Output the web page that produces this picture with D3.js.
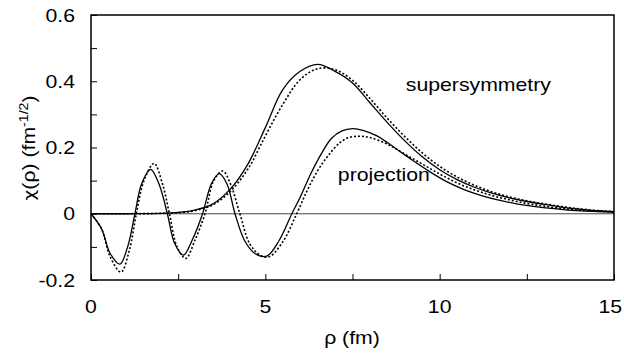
<!DOCTYPE html>
<html><head><meta charset="utf-8">
<script src="https://cdn.jsdelivr.net/npm/d3@7"></script>
<style>body{margin:0;background:#fff;} svg{display:block;font-family:"Liberation Sans",Arial,sans-serif;}</style>
</head><body><svg id="c" width="624" height="362"></svg>
<script>
// ρ (fm), χ values
const superSolidX = [0,1,2,2.5,3,3.5,4,4.5,5,5.5,6,6.5,7,7.5,8,8.5,9,9.5,10,10.5,11,11.5,12,12.5,13,13.5,14,14.5,15];
const superSolidY = [0,0,0.001,0.004,0.012,0.03,0.075,0.15,0.26,0.375,0.43,0.451,0.43,0.395,0.335,0.275,0.22,0.172,0.133,0.103,0.08,0.062,0.048,0.037,0.028,0.02,0.014,0.009,0.006];
const superDotX = [0,1,2,2.5,3,3.5,4,4.5,5,5.5,6,6.5,7,7.5,8,8.5,9,9.5,10,10.5,11,11.5,12,12.5,13,13.5,14,14.5,15];
const superDotY = [0,0,0.001,0.003,0.01,0.027,0.068,0.135,0.235,0.33,0.405,0.438,0.435,0.403,0.348,0.288,0.233,0.184,0.143,0.111,0.086,0.066,0.051,0.039,0.03,0.022,0.015,0.01,0.007];
const projSolidX = [0,0.3,0.55,0.83,1.05,1.26,1.45,1.71,1.95,2.19,2.4,2.65,2.9,3.2,3.45,3.68,3.9,4.13,4.4,4.7,5.04,5.4,5.76,6.0,6.3,6.6,6.9,7.2,7.5,7.8,8.2,8.7,9.2,9.7,10.2,10.7,11.2,11.7,12.2,12.7,13.2,13.7,14.2,15];
const projSolidY = [0,-0.045,-0.12,-0.152,-0.1,0,0.09,0.134,0.09,0,-0.09,-0.125,-0.08,0,0.09,0.121,0.09,0,-0.08,-0.12,-0.128,-0.08,0,0.05,0.12,0.18,0.228,0.25,0.257,0.252,0.235,0.2,0.163,0.128,0.097,0.073,0.055,0.041,0.03,0.022,0.016,0.011,0.008,0.005];
const projDotX = [0,0.3,0.55,0.86,1.1,1.3,1.52,1.81,2.05,2.25,2.47,2.72,2.98,3.27,3.52,3.78,4.0,4.27,4.55,4.85,5.11,5.5,5.9,6.2,6.5,6.8,7.14,7.4,7.71,8.0,8.5,9,9.5,10,10.5,11,11.5,12,12.5,13,13.5,14,14.5,15];
const projDotY = [0,-0.045,-0.13,-0.176,-0.11,0,0.1,0.152,0.09,0,-0.1,-0.135,-0.08,0,0.1,0.129,0.09,0,-0.09,-0.125,-0.13,-0.085,0,0.07,0.13,0.175,0.215,0.23,0.234,0.23,0.21,0.18,0.15,0.12,0.093,0.072,0.055,0.042,0.031,0.023,0.016,0.011,0.008,0.005];
const xTicks = [0,5,10,15];
const xMinor = [2.5,7.5,12.5];
const yTicks = [-0.2,0,0.2,0.4,0.6];
const yTickLabels = ["-0.2","0","0.2","0.4","0.6"];
const yMinor = [-0.1,0.1,0.3,0.5];
const labels = [{t:"supersymmetry",x:9.03,y:0.37},{t:"projection",x:7.08,y:0.1}];

const FS = 18, SX = 1.18;
const svg = d3.select("#c");
const L=91,R=614,T=15,B=280;
const x = d3.scaleLinear().domain([0,15]).range([L,R]);
const y = d3.scaleLinear().domain([-0.2,0.6]).range([B,T]);

function txt(px,py,s,anchor,rot){
  const g = svg.append("g").attr("transform",`translate(${px},${py})${rot?` rotate(${rot})`:""} scale(${SX},1)`);
  return g.append("text").attr("text-anchor",anchor||"start").attr("font-size",FS).text(s);
}

// zero line
svg.append("line").attr("x1",x(0)).attr("x2",x(15)).attr("y1",y(0)).attr("y2",y(0))
  .attr("stroke","#333").attr("stroke-width",0.9);

const line = d3.line().x(d=>x(d[0])).y(d=>y(d[1])).curve(d3.curveCatmullRom.alpha(0.5));
function draw(xs,ys,dash){
  svg.append("path").datum(xs.map((v,i)=>[v,ys[i]])).attr("d",line)
    .attr("fill","none").attr("stroke","#000").attr("stroke-width",dash?1.6:1.3)
    .attr("stroke-dasharray",dash?"2,2":null);
}
draw(superDotX,superDotY,true);
draw(projDotX,projDotY,true);
draw(superSolidX,superSolidY,false);
draw(projSolidX,projSolidY,false);

// frame
svg.append("rect").attr("x",L).attr("y",T).attr("width",R-L).attr("height",B-T)
  .attr("fill","none").attr("stroke","#000").attr("stroke-width",1.5);

// axes (ticks inward)
const xa = svg.append("g").attr("transform",`translate(0,${B})`)
  .call(d3.axisBottom(x).tickValues(xTicks.concat(xMinor)).tickSize(-6).tickFormat(""));
xa.select(".domain").remove();
const ya = svg.append("g").attr("transform",`translate(${L},0)`)
  .call(d3.axisLeft(y).tickValues(yTicks.concat(yMinor)).tickSize(-6).tickFormat(""));
ya.select(".domain").remove();

xTicks.forEach(d=>{
  if (x(d)+12 > 622) txt(622,313,String(d),"end");
  else txt(x(d),313,String(d),"middle");
});
yTicks.forEach((d,i)=>txt(L-16,y(d)+6.5,yTickLabels[i],"end"));

txt(352,344,"ρ (fm)","middle");
const yt = txt(35,148,"","middle",-90);
yt.append("tspan").attr("font-family","'DejaVu Sans'").attr("font-size",16).text("χ");
yt.append("tspan").text("(ρ) (fm");
yt.append("tspan").attr("dy",-7).attr("font-size",12).text("-1/2");
yt.append("tspan").attr("dy",7).text(")");

labels.forEach(d=>txt(x(d.x),y(d.y),d.t,"start"));
</script></body></html>
